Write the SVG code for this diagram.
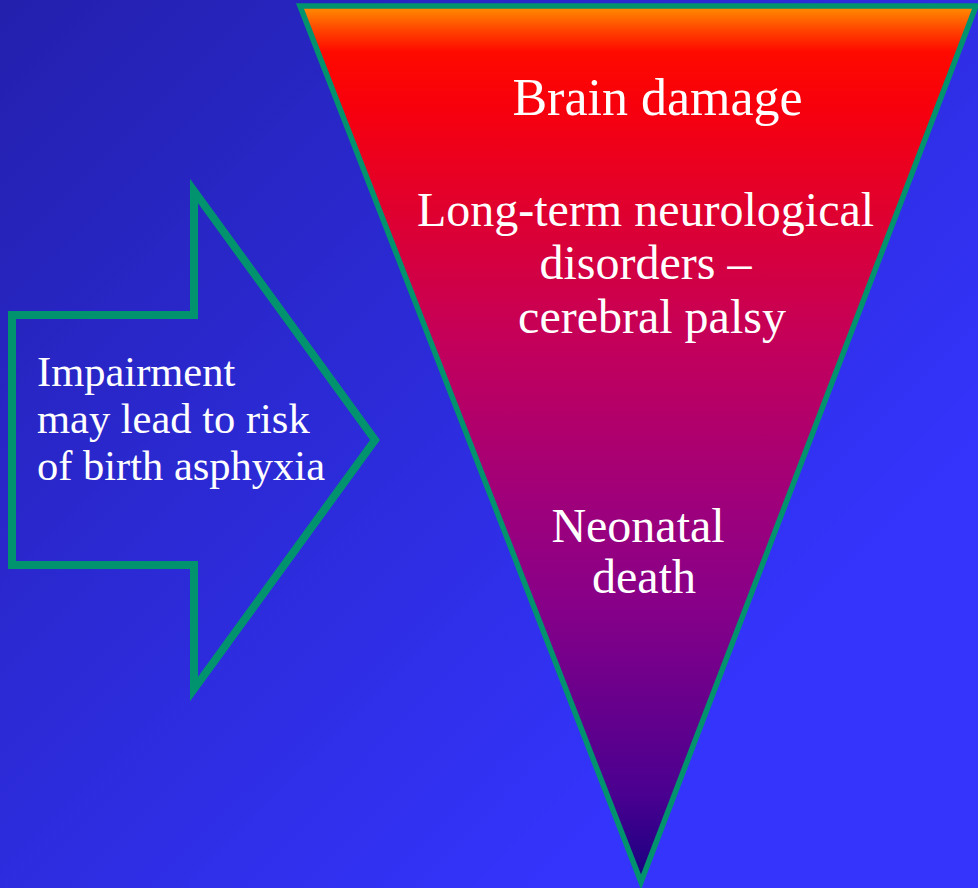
<svg xmlns="http://www.w3.org/2000/svg" width="978" height="888" viewBox="0 0 978 888">
<defs>
<linearGradient id="bg" x1="0" y1="0" x2="720" y2="720" gradientUnits="userSpaceOnUse">
<stop offset="0" stop-color="#2320ad"/>
<stop offset="1" stop-color="#3434fd"/>
</linearGradient>
<linearGradient id="tri" x1="0" y1="8" x2="0" y2="882" gradientUnits="userSpaceOnUse">
<stop offset="0" stop-color="#ff8a00"/>
<stop offset="0.025" stop-color="#ff4400"/>
<stop offset="0.05" stop-color="#ff0a00"/>
<stop offset="0.11" stop-color="#f8000c"/>
<stop offset="0.25" stop-color="#dc0034"/>
<stop offset="0.38" stop-color="#c4005a"/>
<stop offset="0.56" stop-color="#a0007a"/>
<stop offset="0.68" stop-color="#880088"/>
<stop offset="0.9" stop-color="#4a0090"/>
<stop offset="1" stop-color="#160080"/>
</linearGradient>
<style>
.t{font-family:"Liberation Serif","Times New Roman",serif;fill:#ffffff}
.edge{stroke:#00936e;stroke-linejoin:miter}
</style>
</defs>
<rect width="978" height="888" fill="url(#bg)"/>
<g id="triangle">
<polygon class="edge" points="300,6 976,6 641,882" fill="url(#tri)" stroke-width="5.5"/>
<text class="t" x="657.5" y="115" font-size="52" text-anchor="middle">Brain damage</text>
<text class="t" x="645.5" y="226" font-size="48" text-anchor="middle">Long-term neurological</text>
<text class="t" x="645.5" y="279" font-size="48" text-anchor="middle">disorders –</text>
<text class="t" x="652" y="333" font-size="48" text-anchor="middle">cerebral palsy</text>
<text class="t" x="638" y="542" font-size="48" text-anchor="middle">Neonatal</text>
<text class="t" x="644" y="593" font-size="48" text-anchor="middle">death</text>
</g>
<g id="arrow">
<polygon class="edge" points="12,315 194,315 194,191 375,440 194,689 194,565 12,565" fill="none" stroke-width="8"/>
<text class="t" x="37" y="386" font-size="42.5">Impairment</text>
<text class="t" x="37" y="433" font-size="42.5">may lead to risk</text>
<text class="t" x="37" y="480" font-size="42.5">of birth asphyxia</text>
</g>
<g id="connectors"/>
</svg>
